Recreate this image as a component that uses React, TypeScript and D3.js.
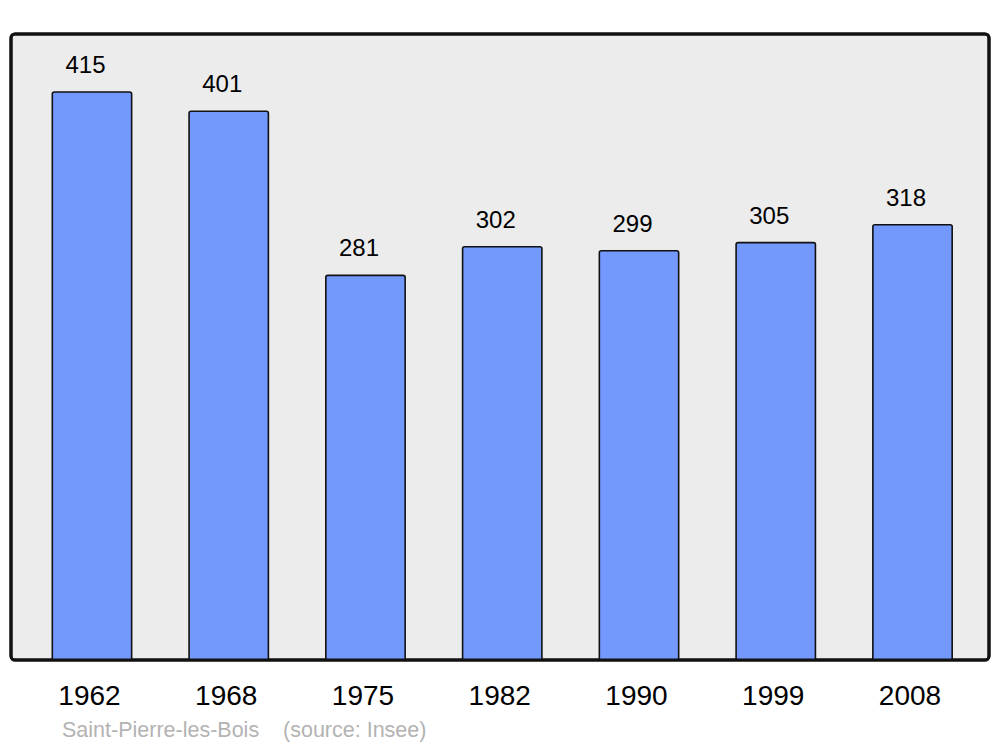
import React from "react";
import * as d3 from "d3";

const years = ["1962", "1968", "1975", "1982", "1990", "1999", "2008"];
const population = [415, 401, 281, 302, 299, 305, 318];
const sourceText = "Saint-Pierre-les-Bois    (source: Insee)";

export default function App() {
  const W = 1000, H = 747;
  const panel = { x: 11, y: 34, w: 978, h: 626 };
  const x = d3.scaleBand<string>().domain(years).range([23.6, 980.9]).paddingInner(0.42).paddingOuter(0.21);
  const y = d3.scaleLinear().domain([0, 457.4]).range([panel.y + panel.h, panel.y]);
  const data = years.map((yr, i) => ({ yr, v: population[i] }));
  return (
    <svg width={W} height={H} style={{ position: "absolute", left: 0, top: 0, fontFamily: "'Liberation Sans', Arial, sans-serif" }}>
      <rect x={0} y={0} width={W} height={H} fill="#fff" />
      <rect x={panel.x} y={panel.y} width={panel.w} height={panel.h} rx={4} fill="#ececec" stroke="#111" strokeWidth={3} />
      {data.map((d) => {
        const bx = x(d.yr)!;
        const bw = x.bandwidth();
        return (
          <g key={d.yr}>
            <path
              d={`M${bx},${y(0)} L${bx},${y(d.v) + 2} Q${bx},${y(d.v)} ${bx + 2},${y(d.v)} L${bx + bw - 2},${y(d.v)} Q${bx + bw},${y(d.v)} ${bx + bw},${y(d.v) + 2} L${bx + bw},${y(0)}`}
              fill="#7399ff"
              stroke="#111"
              strokeWidth={1.6}
            />
            <text x={bx + bw / 2 - 6.5} y={y(d.v) - 19} textAnchor="middle" fontSize={24} fill="#000">{d.v}</text>
            <text x={bx + bw / 2 - 2.5} y={705} textAnchor="middle" fontSize={28} fill="#000">{d.yr}</text>
          </g>
        );
      })}
      <rect x={panel.x} y={panel.y} width={panel.w} height={panel.h} rx={4} fill="none" stroke="#111" strokeWidth={3} />
      <text x={62} y={737} fontSize={21.5} fill="#b3b3b3" style={{ whiteSpace: "pre" }}>{sourceText}</text>
    </svg>
  );
}
